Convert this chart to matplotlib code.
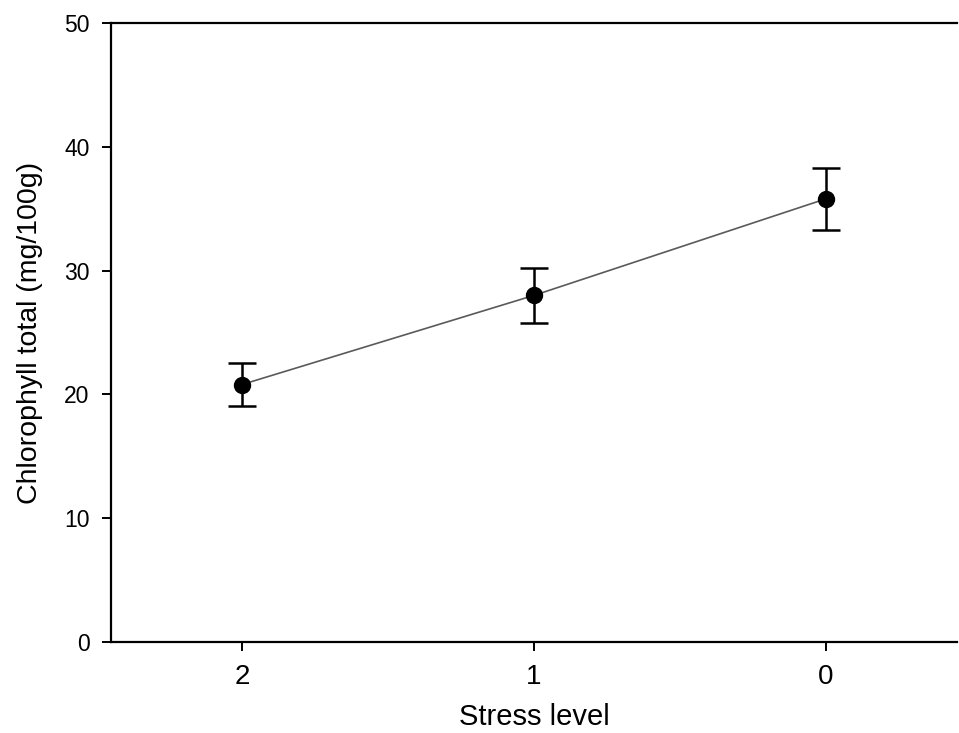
import matplotlib
matplotlib.use("Agg")
import matplotlib.pyplot as plt

# stress levels (axis runs 2 -> 0)
stress_level = [2, 1, 0]
chlorophyll_mean = [20.8, 28.0, 35.8]
chlorophyll_err = [1.75, 2.2, 2.5]

plt.rcParams["font.family"] = ["Liberation Sans", "DejaVu Sans"]

fig = plt.figure(figsize=(9.59, 7.33), dpi=100)
ax = fig.add_axes([0.1157, 0.1241, 0.8822, 0.8445])

ax.plot(stress_level, chlorophyll_mean, color="#5a5a5a", linewidth=1.2, zorder=2)
ax.errorbar(
    stress_level,
    chlorophyll_mean,
    yerr=chlorophyll_err,
    fmt="o",
    color="black",
    markersize=11.5,
    elinewidth=1.8,
    capsize=10,
    capthick=1.8,
    zorder=3,
)

ax.set_xlim(2.449, -0.449)
ax.set_ylim(0, 50)
ax.set_xticks(stress_level)
ax.set_xticklabels([str(v) for v in stress_level])
ax.set_yticks([0, 10, 20, 30, 40, 50])

for side in ("left", "bottom", "top"):
    ax.spines[side].set_linewidth(1.6)
ax.spines["right"].set_visible(False)

ax.tick_params(axis="both", direction="out", length=6.5, width=1.4, top=False, right=False)
ax.tick_params(axis="y", labelsize=16.5, pad=9)
ax.tick_params(axis="x", labelsize=20, pad=9)

ax.set_xlabel("Stress level", fontsize=21, labelpad=10)
ax.set_ylabel("Chlorophyll total (mg/100g)", fontsize=20.5, labelpad=15)

fig.savefig("out.png", dpi=100)
